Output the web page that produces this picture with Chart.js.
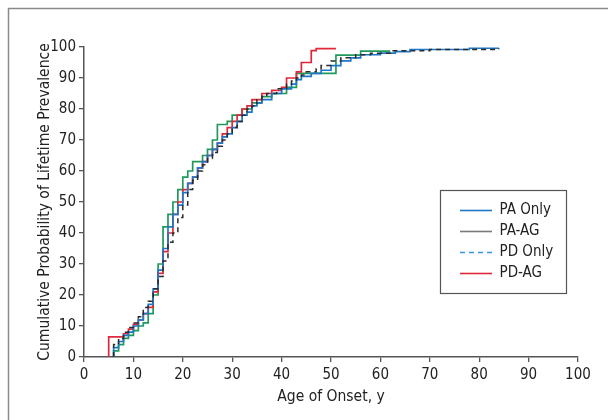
<!DOCTYPE html>
<html>
<head>
<meta charset="utf-8">
<script src="https://cdn.jsdelivr.net/npm/chart.js@4/dist/chart.umd.min.js"></script>
<style>
  html, body { margin: 0; padding: 0; background: #fff; }
  #wrap { position: absolute; left: 0; top: 0; width: 608px; height: 420px; }
</style>
</head>
<body>
<div id="wrap"><canvas id="c" width="608" height="420"></canvas></div>
<script>
// ---- data (age of onset, cumulative %) ----
const paOnlyAges = [6, 6, 7, 8, 9, 10, 11, 12, 13, 14, 15, 16, 17, 18, 19, 20, 21, 22, 23, 24, 25, 26, 27, 28, 29, 30, 31, 32, 33, 34, 35, 36, 38, 40, 42, 43, 44, 46, 48, 50, 52, 54, 56, 60, 63, 66, 78, 84];
const paOnlyVals = [0, 3, 5, 7, 8, 10, 12, 14, 17, 22, 28, 35, 42, 46, 49, 53, 56, 58, 61, 63, 65, 67, 69, 71, 72, 74, 76, 78, 79, 81, 82, 83, 85, 86.5, 88, 89.5, 90.5, 91.5, 92.5, 94, 95.5, 96.5, 97.5, 98, 98.5, 99.2, 99.6, 99.6];

const paAgAges = [6, 6, 7, 8, 9, 10, 11, 12, 13, 14, 15, 16, 17, 18, 19, 20, 21, 22, 24, 25, 26, 27, 29, 30, 32, 34, 36, 38, 41, 43, 51, 56, 62];
const paAgVals = [0, 2, 4, 6, 7, 8.5, 10, 11, 14, 20, 30, 42, 46, 50, 54, 58, 60, 63, 65, 67, 70, 75, 76, 78, 80, 82, 84, 85, 87, 91.5, 97.4, 98.7, 98.7];

const pdOnlyAges = [6, 6, 7, 8, 9, 10, 11, 12, 13, 14, 15, 16, 17, 18, 19, 20, 21, 22, 23, 24, 25, 26, 27, 28, 29, 30, 31, 32, 33, 34, 35, 36, 37, 39, 41, 42, 43, 44, 45, 47, 48, 50, 52, 55, 58, 62, 70, 84];
const pdOnlyVals = [0, 4, 6, 8, 9.5, 11, 13, 16, 18, 22, 26, 31, 37, 40, 45, 49, 54, 57, 60, 62, 64, 66, 68, 70, 72, 74, 76, 78, 80, 81, 83, 84, 85, 86.5, 88, 89, 90, 91, 92, 93, 94, 95.5, 96.5, 97.5, 98, 98.8, 99.2, 99.5];

const pdAgAges = [5, 5, 8, 9, 10, 11, 12, 13, 14, 15, 16, 17, 18, 19, 20, 21, 22, 23, 24, 25, 26, 27, 28, 29, 30, 31, 32, 33, 34, 36, 38, 40, 41, 43, 44, 46, 47, 51];
const pdAgVals = [0, 6.5, 7.5, 9, 10.5, 12, 14, 16, 21, 27, 34, 40, 46, 50, 54, 56, 58, 61, 63, 65, 67, 69, 72, 74, 76, 78, 80, 81, 83, 85, 86, 87, 90, 92, 95, 98.8, 99.5, 99.5];

const xTicks = [0, 10, 20, 30, 40, 50, 60, 70, 80, 90, 100];
const yTicks = [0, 10, 20, 30, 40, 50, 60, 70, 80, 90, 100];
const seriesNames = ['PA Only', 'PA-AG', 'PD Only', 'PD-AG'];

const toPts = (a, v) => a.map((x, i) => ({ x: x, y: v[i] }));

const FONT = "'DejaVu Sans Condensed', 'Liberation Sans Narrow', 'Liberation Sans', Arial, sans-serif";
const AXIS = '#555';

const legendColors = [
  { stroke: '#1f77c8', dash: [] },
  { stroke: '#7a7a7a', dash: [] },
  { stroke: '#3a95d6', dash: [5, 4] },
  { stroke: '#e0283a', dash: [] }
];

const framePlugin = {
  id: 'frame',
  beforeDraw(chart) {
    const ctx = chart.ctx;
    ctx.save();
    ctx.strokeStyle = '#8a8a8a';
    ctx.lineWidth = 1.5;
    ctx.beginPath();
    ctx.moveTo(8.5, 420);
    ctx.lineTo(8.5, 8.5);
    ctx.lineTo(608, 8.5);
    ctx.stroke();
    // legend box
    ctx.strokeStyle = '#555';
    ctx.lineWidth = 1.2;
    ctx.strokeRect(440.5, 190.5, 126, 103);
    ctx.restore();
  },
  afterLayout(chart) {
    const lg = chart.legend;
    if (!lg) return;
    lg.left = 454; lg.top = 197; lg.right = 566; lg.bottom = 292;
    lg.width = lg.right - lg.left; lg.height = lg.bottom - lg.top;
  }
};

new Chart(document.getElementById('c'), {
  type: 'line',
  data: {
    datasets: [
      { label: seriesNames[0], data: toPts(paOnlyAges, paOnlyVals), borderColor: '#1f77c8', borderWidth: 1.7, stepped: true, pointRadius: 0, fill: false, order: 1 },
      { label: seriesNames[1], data: toPts(paAgAges, paAgVals), borderColor: '#1f9a5c', borderWidth: 1.7, stepped: true, pointRadius: 0, fill: false, order: 3 },
      { label: seriesNames[2], data: toPts(pdOnlyAges, pdOnlyVals), borderColor: '#2a2a2a', borderWidth: 1.5, borderDash: [5, 4], stepped: true, pointRadius: 0, fill: false, order: 0 },
      { label: seriesNames[3], data: toPts(pdAgAges, pdAgVals), borderColor: '#e0283a', borderWidth: 1.7, stepped: true, pointRadius: 0, fill: false, order: 2 }
    ]
  },
  options: {
    responsive: false,
    animation: false,
    events: [],
    layout: { padding: { left: 0, top: 47, right: 30, bottom: 0 } },
    plugins: {
      tooltip: { enabled: false },
      legend: {
        display: true,
        position: 'chartArea',
        align: 'start',
        labels: {
          usePointStyle: true,
          pointStyle: 'line',
          pointStyleWidth: 32,
          boxHeight: 14,
          padding: 6,
          color: '#222',
          font: { family: FONT, size: 15 },
          generateLabels(chart) {
            return seriesNames.map((n, i) => ({
              text: n,
              strokeStyle: legendColors[i].stroke,
              fillStyle: legendColors[i].stroke,
              lineDash: legendColors[i].dash,
              lineWidth: 1.6,
              pointStyle: 'line',
              hidden: false,
              datasetIndex: i,
              fontColor: '#222'
            }));
          }
        }
      }
    },
    scales: {
      x: {
        type: 'linear',
        min: 0, max: 100,
        afterFit(s) { s.height = 63; },
        afterBuildTicks(s) { s.ticks = xTicks.map(v => ({ value: v })); },
        grid: { display: true, drawOnChartArea: false, drawTicks: true, tickLength: 5, color: AXIS, lineWidth: 1.3 },
        border: { display: true, color: AXIS, width: 1.5 },
        ticks: { color: '#222', padding: 4, maxRotation: 0, font: { family: FONT, size: 15 } },
        title: { display: true, text: 'Age of Onset, y', color: '#222', padding: { top: 0, bottom: 14 }, font: { family: FONT, size: 15.5 } }
      },
      y: {
        type: 'linear',
        min: 0, max: 100,
        afterFit(s) { s.width = 84; },
        afterBuildTicks(s) { s.ticks = yTicks.map(v => ({ value: v })); },
        grid: { display: true, drawOnChartArea: false, drawTicks: true, tickLength: 5, color: AXIS, lineWidth: 1.3 },
        border: { display: true, color: AXIS, width: 1.5 },
        ticks: { color: '#222', padding: 3, font: { family: FONT, size: 15 } },
        title: { display: true, text: 'Cumulative Probability of Lifetime Prevalence', color: '#222', padding: { top: 36, bottom: 0 }, font: { family: FONT, size: 15.5 } }
      }
    }
  },
  plugins: [framePlugin]
});
</script>
</body>
</html>
